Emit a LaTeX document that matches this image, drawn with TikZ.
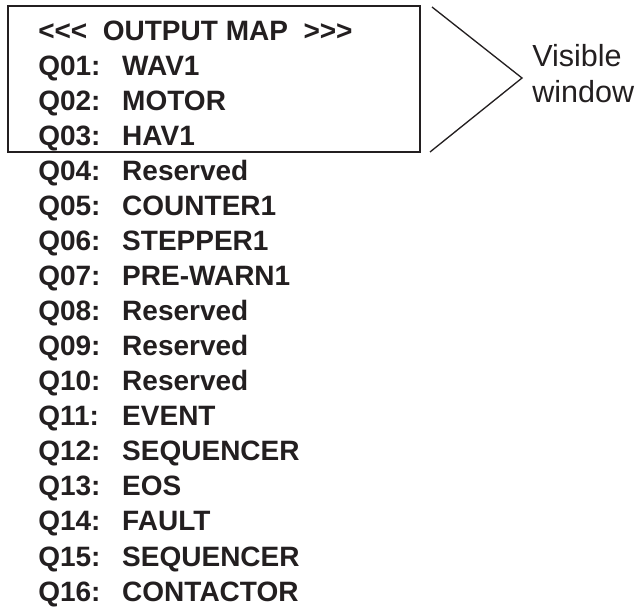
\documentclass[tikz,border=0pt]{standalone}
\usepackage{fontspec}
\setmainfont{Liberation Sans}
\usetikzlibrary{positioning}
\definecolor{mapink}{RGB}{35,31,32}
\newcommand{\qout}[2]{\makebox[63pt][l]{#1:}#2}

\begin{document}
\begin{tikzpicture}[
    x=0.75pt, y=-0.75pt,
    node distance=26.3pt,
    every node/.style={text=mapink},
    entry/.style={font=\fontsize{21pt}{25pt}\selectfont\bfseries, inner sep=0pt, anchor=base west},
    winlabel/.style={font=\fontsize{22.9pt}{27pt}\selectfont, align=left, inner sep=0pt},
    frame/.style={draw=mapink, line width=1.4pt},
    brace/.style={draw=mapink, line width=1pt}
  ]
    \useasboundingbox (0,0) rectangle (638,607);

    \node[entry] (head) at (38,40) {<{}<{}<~~OUTPUT MAP~~>{}>{}>};
    \node[below=of head.base west, entry] (q01) {\qout{Q01}{WAV1}};
    \node[below=of q01.base west, entry] (q02) {\qout{Q02}{MOTOR}};
    \node[below=of q02.base west, entry] (q03) {\qout{Q03}{HAV1}};
    \node[below=of q03.base west, entry] (q04) {\qout{Q04}{Reserved}};
    \node[below=of q04.base west, entry] (q05) {\qout{Q05}{COUNTER1}};
    \node[below=of q05.base west, entry] (q06) {\qout{Q06}{STEPPER1}};
    \node[below=of q06.base west, entry] (q07) {\qout{Q07}{PRE-WARN1}};
    \node[below=of q07.base west, entry] (q08) {\qout{Q08}{Reserved}};
    \node[below=of q08.base west, entry] (q09) {\qout{Q09}{Reserved}};
    \node[below=of q09.base west, entry] (q10) {\qout{Q10}{Reserved}};
    \node[below=of q10.base west, entry] (q11) {\qout{Q11}{EVENT}};
    \node[below=of q11.base west, entry] (q12) {\qout{Q12}{SEQUENCER}};
    \node[below=of q12.base west, entry] (q13) {\qout{Q13}{EOS}};
    \node[below=of q13.base west, entry] (q14) {\qout{Q14}{FAULT}};
    \node[below=of q14.base west, entry] (q15) {\qout{Q15}{SEQUENCER}};
    \node[below=of q15.base west, entry] (q16) {\qout{Q16}{CONTACTOR}};

    % visible window
    \coordinate (win nw) at (8,6);
    \coordinate (win se) at (420,152);
    \draw[frame] (win nw) rectangle (win se);

    \coordinate (br top) at (432,7);
    \coordinate (br tip) at (522,78);
    \coordinate (br bot) at (430,152);
    \draw[brace] (br top) -- (br tip) -- (br bot);

    \node[winlabel, anchor=west] (vis) at (532,74) {Visible\\window};
  \end{tikzpicture}
\end{document}
